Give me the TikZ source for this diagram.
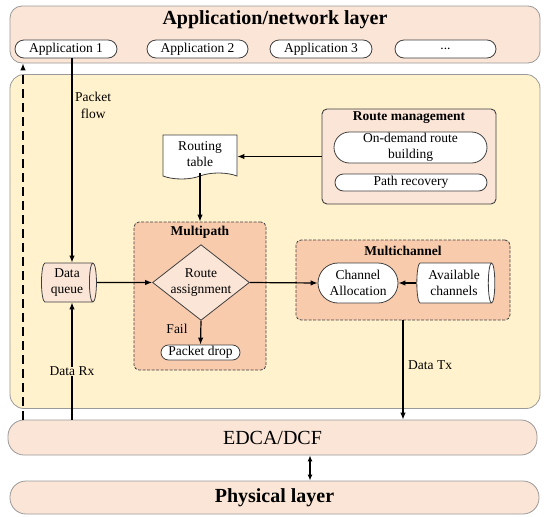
\documentclass[tikz,border=0pt]{standalone}
\usepackage{fontspec}
\setmainfont{Liberation Serif}
\usetikzlibrary{shapes.geometric,shapes.misc,shapes.symbols,arrows.meta}
\definecolor{peach}{HTML}{FBE5D6}
\definecolor{ybg}{HTML}{FFF2CC}
\definecolor{salmon}{HTML}{F8CBAD}
\definecolor{laygray}{HTML}{9A9A9A}
\definecolor{dk}{HTML}{404040}
\tikzset{
  txt/.style={font=\fontsize{13.5}{16.5}\selectfont, align=center, inner sep=0pt},
  layerbox/.style={draw=laygray, fill=peach, line width=0.8pt, rounded corners=12pt, inner sep=0pt},
  pill/.style={rounded rectangle, draw=dk, fill=white, line width=0.8pt, txt},
  groupbox/.style={draw=dk, fill=salmon, line width=0.8pt, dash pattern=on 3pt off 1.5pt, rounded corners=5pt, inner sep=0pt},
  arr/.style={-{Latex[length=7pt,width=5.5pt]}, line width=1.2pt},
  lbl/.style={txt},
  ttl/.style={font=\fontsize{13.5}{16}\selectfont\bfseries, inner sep=0pt},
  cyl/.style={cylinder, shape border rotate=0, aspect=0.25, draw=dk, line width=0.8pt, txt},
}
\begin{document}
\begin{tikzpicture}[x=1pt,y=-1pt]
\useasboundingbox (0,0) rectangle (550,517);
% layers
\node[layerbox, minimum width=530pt, minimum height=57pt] (app) at (275,34.5) {};
\node[font=\fontsize{20}{24}\selectfont\bfseries, inner sep=0pt] (apptitle) at (275,20) {Application/network layer};
\node[pill, minimum width=102pt, minimum height=18pt] (app1) at (66,49) {Application 1};
\node[pill, minimum width=101pt, minimum height=18pt] (app2) at (197.5,49) {Application 2};
\node[pill, minimum width=102pt, minimum height=18pt] (app3) at (321,49) {Application 3};
\node[pill, minimum width=101pt, minimum height=18pt] (app4) at (445.5,49) {...};

\node[draw=laygray, fill=ybg, line width=0.8pt, rounded corners=14pt, minimum width=530pt, minimum height=334pt, inner sep=0pt] (net) at (275,241.5) {};

\node[layerbox, rounded corners=16pt, minimum width=529pt, minimum height=35pt, font=\fontsize{20}{24}\selectfont] (edca) at (272.5,437.5) {EDCA/DCF};
\node[layerbox, rounded corners=16pt, minimum width=529pt, minimum height=33pt, font=\fontsize{20}{24}\selectfont\bfseries] (phy) at (274.5,497.5) {Physical layer};

% route management
\node[draw=dk, fill=peach, line width=0.9pt, rounded corners=5pt, minimum width=174pt, minimum height=95pt, inner sep=0pt] (rm) at (409,156.5) {};
\node[ttl] (rmt) at (409,118) {Route management};
\node[pill, minimum width=153pt, minimum height=31pt] (odr) at (410.5,147.5) {On-demand route\\building};
\node[pill, minimum width=152pt, minimum height=17pt] (pr) at (411,182.5) {Path recovery};

% routing table
\node[tape, tape bend top=none, tape bend height=6pt, draw=dk, fill=white, line width=0.8pt, minimum width=74pt, minimum height=44pt, txt] (rt) at (200,154) {Routing\\table};

% multipath
\node[groupbox, minimum width=132pt, minimum height=148pt] (mp) at (200,296) {};
\node[ttl] (mpt) at (200,232) {Multipath};
\node[diamond, aspect=1.28, draw=dk, fill=peach, line width=0.8pt, txt] (ra) at (201,282.5) {Route\\assignment};
\node[pill, minimum width=79pt, minimum height=15pt] (pd) at (200.5,352.5) {Packet drop};
\node[lbl] (fail) at (177,329) {Fail};

% data queue
\node[cyl, fill=peach, minimum height=55pt, minimum width=39pt] (dq) at (67,282.5) {Data\\queue};

% multichannel
\node[groupbox, minimum width=214pt, minimum height=80pt] (mc) at (403,280) {};
\node[ttl] (mct) at (403,251) {Multichannel};
\node[pill, minimum width=80pt, minimum height=40pt] (ca) at (358,283) {Channel\\Allocation};
\node[cyl, fill=white, minimum height=78pt, minimum width=40pt] (ac) at (454,283) {Available\\channels};

% coordinates for vertical connectors
\coordinate (xpf) at (72,0);
\coordinate (xdash) at (23,0);
\coordinate (xtx) at (403,0);
\coordinate (xphy) at (310,0);

% connectors
\draw[arr] (app1.south -| xpf) -- (dq.north -| xpf);
\node[lbl, anchor=north west, align=center] (pflbl) at (75,92) {Packet\\flow};
\draw[arr] (edca.north -| xpf) -- (dq.south -| xpf) node[pos=0.41, fill=ybg, inner ysep=2pt, inner xsep=1pt, txt] (rx) {Data Rx};
\draw[-{Latex[length=7pt,width=5.5pt]}, line width=1.2pt, dash pattern=on 9pt off 5pt] (edca.north -| xdash) -- (app.south -| xdash);
\draw[arr] (rm.west) -- (rm.west -| rt.east);
\draw[arr] (rt.south) -- (mp.north);
\draw[arr] (dq.east) -- (ra.west);
\draw[arr] (ra.south) -- (pd.north);
\draw[arr] (ra.east) -- (ca.west);
\draw[arr] (ac.west) -- (ca.east);
\draw[arr] (mc.south -| xtx) -- (edca.north -| xtx);
\node[lbl, anchor=west] (tx) at (408,365) {Data Tx};
\draw[{Latex[length=6pt,width=5pt]}-{Latex[length=6pt,width=5pt]}, line width=1.2pt] (edca.south -| xphy) -- (phy.north -| xphy);
\end{tikzpicture}
\end{document}
